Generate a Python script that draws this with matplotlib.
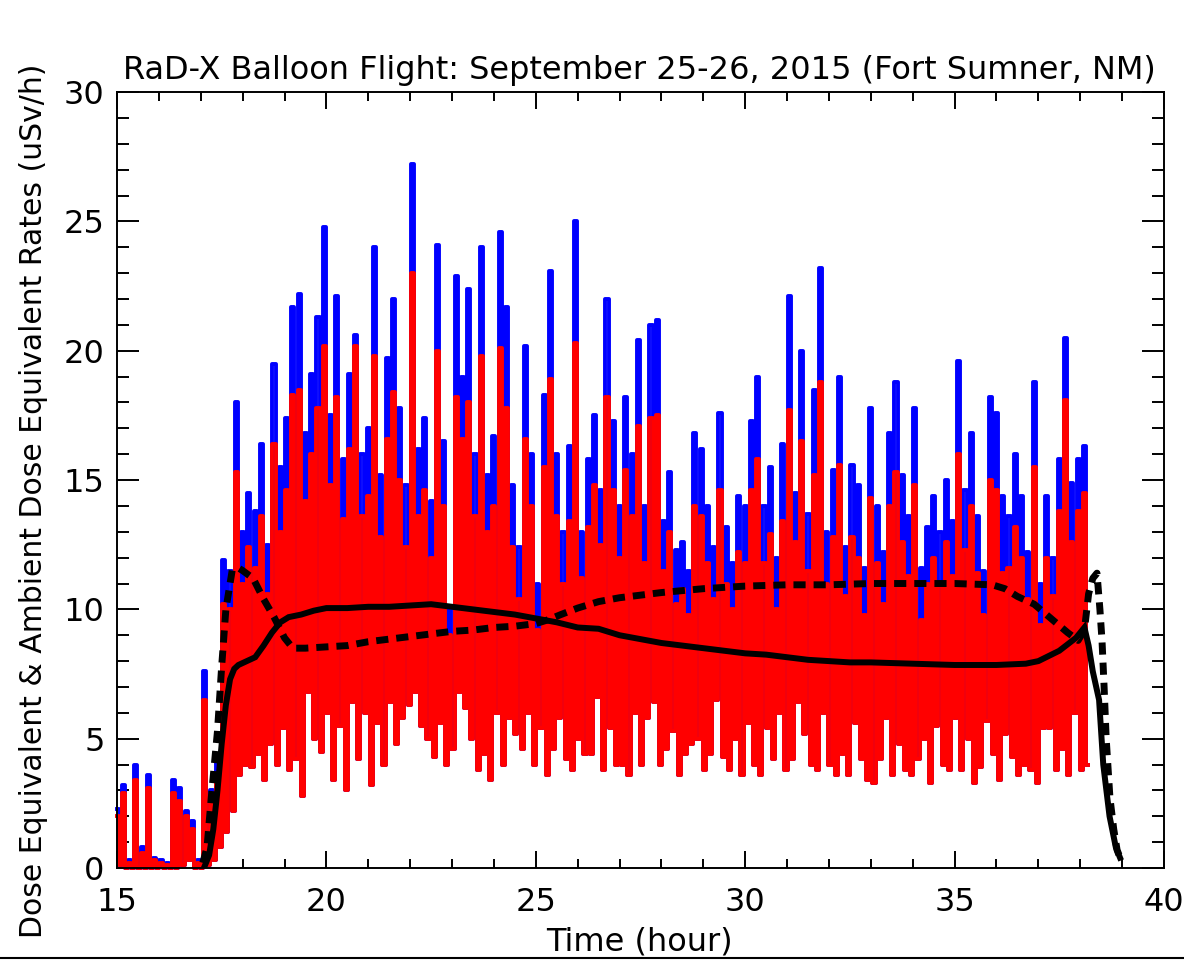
import numpy as np
import matplotlib.pyplot as plt
from matplotlib.lines import Line2D
from matplotlib.ticker import MultipleLocator

plt.rcParams['font.family'] = ['DejaVu Sans']

# ---------------------------------------------------------------------------
# Dose rate readings, one column every 0.15 h starting at 15.0 h.
# Each column swings between a high reading (top) and a low one.
# ---------------------------------------------------------------------------
t_start = 15.0
t_step = 0.15

blue_top = [2.3, 3.2, 0.3, 4.0, 0.8, 3.6, 0.4, 0.3, 0.2, 3.4, 3.1, 2.2, 1.8, 0.3,
            7.6, 3.0, 4.2, 11.9, 11.5, 18.0, 13.0, 14.5, 13.8, 16.4, 12.5, 19.5, 15.5, 17.4, 21.7, 22.2,
            16.8, 19.1, 21.3, 24.8, 17.5, 22.1, 15.8, 19.1, 20.6, 16.0, 17.0, 24.0, 15.2, 19.7, 22.0, 17.8, 14.8, 27.2, 16.2, 17.4,
            14.2, 24.1, 16.5, 10.0, 22.9, 19.0, 22.4, 16.0, 24.0, 15.2, 16.7, 24.6, 21.7, 14.8, 12.4, 20.2, 16.0, 11.0, 18.3, 23.1,
            16.0, 13.0, 16.3, 25.0, 13.0, 15.8, 17.5, 14.6, 22.0, 17.3, 14.0, 18.2, 16.0, 20.4, 14.0, 21.0, 21.2, 13.4, 15.3, 12.3,
            12.6, 11.5, 16.8, 16.2, 14.0, 12.4, 17.6, 13.2, 11.8, 14.4, 14.0, 17.3, 19.0, 14.0, 15.5, 12.0, 16.4, 22.1, 14.5, 20.0,
            13.7, 18.5, 23.2, 13.0, 15.4, 19.0, 12.4, 15.6, 14.8, 11.6, 17.8, 14.0, 12.2, 16.8, 18.8, 15.2, 13.6, 17.8, 11.6, 13.2,
            14.4, 13.0, 15.0, 13.4, 19.6, 14.6, 16.8, 13.6, 11.5, 18.2, 17.6, 14.4, 13.6, 16.0, 14.4, 12.2, 18.8, 11.0, 14.4, 12.0,
            15.8, 20.5, 14.9, 15.8, 16.3]

red_top = [2.0, 2.9, 0.2, 3.4, 0.6, 3.1, 0.3, 0.2, 0.1, 2.9, 2.6, 2.0, 1.5, 0.2,
           6.5, 2.6, 3.6, 10.2, 10.0, 15.3, 11.0, 12.4, 11.6, 13.6, 10.6, 16.4, 13.0, 14.6, 18.3, 18.5,
           14.2, 16.0, 17.8, 20.2, 14.8, 18.2, 13.5, 16.2, 20.2, 13.6, 14.4, 19.8, 12.8, 16.6, 18.4, 15.0, 12.4, 23.0, 13.6, 14.6,
           12.0, 20.0, 14.0, 9.0, 18.2, 16.6, 18.0, 13.6, 19.8, 13.0, 14.0, 20.1, 17.8, 12.4, 10.4, 16.6, 14.0, 9.2, 15.5, 18.9,
           13.6, 11.0, 13.4, 20.3, 11.2, 13.2, 14.8, 12.5, 18.2, 14.6, 12.0, 15.4, 13.6, 17.1, 11.8, 17.4, 17.5, 11.5, 13.0, 10.2,
           10.8, 9.8, 14.0, 13.6, 11.8, 10.4, 14.6, 11.0, 10.0, 12.2, 11.8, 14.6, 15.8, 11.8, 12.9, 10.0, 13.4, 17.7, 12.6, 16.5,
           11.5, 15.2, 18.8, 11.0, 12.8, 15.6, 10.5, 12.8, 12.0, 9.8, 14.3, 11.8, 10.2, 14.0, 15.3, 12.6, 11.3, 14.8, 9.6, 11.0,
           12.0, 11.0, 12.6, 11.3, 16.0, 12.3, 14.0, 11.4, 9.8, 15.0, 14.6, 11.4, 11.6, 13.2, 12.0, 10.4, 15.5, 9.4, 12.0, 10.5,
           13.8, 18.1, 12.6, 13.8, 14.5]

red_low = [0.1, 0.0, 0.0, 0.0, 0.0, 0.0, 0.0, 0.0, 0.0, 0.0, 0.1, 0.3, 0.0, 0.0,
           0.1, 0.3, 0.8, 1.4, 2.2, 3.6, 4.0, 3.9, 4.4, 3.4, 4.8, 4.0, 5.4, 3.8, 4.2, 2.8,
           6.8, 5.0, 4.5, 6.0, 3.4, 5.5, 3.0, 6.4, 4.2, 6.0, 3.2, 5.6, 4.0, 6.4, 4.8, 5.8, 6.3, 6.8, 5.5, 5.0,
           4.3, 5.6, 4.0, 4.6, 6.8, 6.2, 5.0, 3.8, 4.4, 3.4, 6.0, 4.0, 5.8, 5.2, 4.6, 6.0, 4.0, 5.4, 3.6, 4.6,
           5.8, 4.2, 3.8, 5.0, 4.4, 4.4, 6.6, 3.8, 5.4, 4.0, 4.0, 3.6, 6.0, 4.0, 5.8, 6.4, 4.0, 4.6, 5.3, 3.6,
           4.4, 4.8, 5.0, 3.8, 4.4, 6.5, 4.3, 3.8, 5.0, 3.6, 5.6, 4.0, 3.6, 5.4, 4.2, 6.0, 3.8, 4.2, 6.4, 5.2,
           4.0, 3.8, 6.0, 4.0, 3.6, 4.4, 3.6, 5.6, 4.2, 3.4, 3.3, 4.2, 5.8, 3.6, 4.8, 3.8, 3.6, 4.2, 5.0, 3.3,
           5.5, 4.0, 3.8, 5.8, 3.8, 5.0, 3.3, 3.9, 5.7, 4.4, 3.4, 5.2, 4.3, 3.6, 4.0, 3.8, 3.3, 5.4, 5.4, 3.8,
           4.6, 3.6, 6.0, 3.8, 4.0]

# smooth model curves (time in hours, rate in uSv/h)
solid_t = [17.1, 17.2, 17.3, 17.4, 17.5, 17.6, 17.7, 17.8, 17.9, 18.1, 18.3, 18.5, 18.7, 18.9,
           19.1, 19.4, 19.7, 20.0, 20.5, 21.0, 21.5, 22.0, 22.5, 23.0, 23.5, 24.0, 24.5, 25.0,
           25.5, 26.0, 26.5, 27.0, 27.5, 28.0, 28.5, 29.0, 29.5, 30.0, 30.5, 31.0, 31.5, 32.0,
           32.5, 33.0, 34.0, 35.0, 36.0, 36.7, 37.0, 37.5, 37.9, 38.1, 38.2, 38.3, 38.45, 38.55,
           38.7, 38.85, 38.95]
solid_v = [0.1, 0.5, 1.5, 3.0, 4.8, 6.3, 7.3, 7.7, 7.85, 8.0, 8.15, 8.6, 9.1, 9.5,
           9.7, 9.8, 9.95, 10.05, 10.05, 10.1, 10.1, 10.15, 10.2, 10.1, 10.0, 9.9, 9.8, 9.65,
           9.5, 9.3, 9.25, 9.0, 8.85, 8.7, 8.6, 8.5, 8.4, 8.3, 8.25, 8.15, 8.05, 8.0,
           7.95, 7.95, 7.9, 7.85, 7.85, 7.9, 8.0, 8.4, 8.9, 9.3, 8.6, 7.6, 6.5, 4.0,
           2.0, 0.8, 0.4]

dash_t = [17.05, 17.15, 17.25, 17.4, 17.5, 17.6, 17.75, 17.9, 18.0, 18.25, 18.5, 18.75,
          19.0, 19.2, 19.5, 20.0, 20.5, 21.0, 21.5, 22.0, 22.5, 23.0, 23.5, 24.0, 24.5,
          25.0, 25.3, 25.6, 26.0, 26.5, 27.0, 27.5, 28.0, 29.0, 30.0, 31.0, 32.0, 33.0,
          34.0, 35.0, 35.9, 36.2, 36.5, 36.9, 37.3, 37.7, 37.95, 38.1, 38.2, 38.3, 38.4,
          38.47, 38.52, 38.57, 38.62, 38.71, 38.8, 38.88, 38.95]
dash_v = [0.2, 0.8, 2.7, 5.3, 7.8, 10.0, 11.5, 11.6, 11.5, 11.2, 10.4, 9.7,
          8.9, 8.5, 8.5, 8.55, 8.6, 8.75, 8.85, 8.95, 9.05, 9.15, 9.2, 9.3, 9.35,
          9.45, 9.6, 9.8, 10.05, 10.3, 10.45, 10.55, 10.65, 10.8, 10.9, 10.95, 10.95, 11.0,
          11.0, 11.0, 10.95, 10.8, 10.5, 10.2, 9.65, 9.1, 8.8, 9.2, 10.6, 11.2, 11.4,
          10.0, 8.8, 7.0, 5.0, 2.7, 1.5, 0.7, 0.4]


def zigzag(tops, lows):
    # high reading at the start of each step, low reading half a step later
    n = len(tops)
    t = t_start + t_step * np.arange(n)
    tt = np.empty(2 * n)
    vv = np.empty(2 * n)
    tt[0::2] = t
    tt[1::2] = t + t_step / 2
    vv[0::2] = tops
    vv[1::2] = lows
    return tt, vv


fig = plt.figure(figsize=(11.84, 9.6), dpi=100)
ax = fig.add_axes([0.0988, 0.0958, 0.8843, 0.8083])

tb, vb = zigzag(blue_top, red_low)
tr, vr = zigzag(red_top, red_low)
ax.plot(tb, vb, drawstyle='steps-mid', color='blue', lw=2.8, clip_on=False)
ax.plot(tr, vr, drawstyle='steps-mid', color='red', lw=2.8, clip_on=False)

ax.plot(solid_t, solid_v, color='black', lw=4.3, solid_joinstyle='miter')
ax.plot(dash_t, dash_v, color='black', lw=5, dashes=(1.75, 1.15))

ax.set_xlim(15, 40)
ax.set_ylim(0, 30)
ax.xaxis.set_major_locator(MultipleLocator(5))
ax.xaxis.set_minor_locator(MultipleLocator(1))
ax.yaxis.set_major_locator(MultipleLocator(5))
ax.yaxis.set_minor_locator(MultipleLocator(1))

ax.tick_params(which='both', direction='in', top=True, right=True, width=1.4,
               labelsize=23, colors='black')
ax.tick_params(axis='x', which='major', length=12, pad=14)
ax.tick_params(axis='x', which='minor', length=6.5)
ax.tick_params(axis='y', which='major', length=16, pad=9)
ax.tick_params(axis='y', which='minor', length=8.5)
for s in ax.spines.values():
    s.set_linewidth(1.4)

fig.text(0.54, 0.927, 'RaD-X Balloon Flight: September 25-26, 2015 (Fort Sumner, NM)',
         ha='center', va='center', fontsize=23)
fig.text(0.028, 0.478, 'Dose Equivalent & Ambient Dose Equivalent Rates (uSv/h)',
         ha='center', va='center', rotation=90, fontsize=21.5)
fig.text(0.54, 0.019, 'Time (hour)', ha='center', va='center', fontsize=23)

# thin frame line along the bottom edge
fig.add_artist(Line2D([0, 1], [0.002, 0.002], color='black', lw=1.5))

fig.savefig('out.png', dpi=100)
